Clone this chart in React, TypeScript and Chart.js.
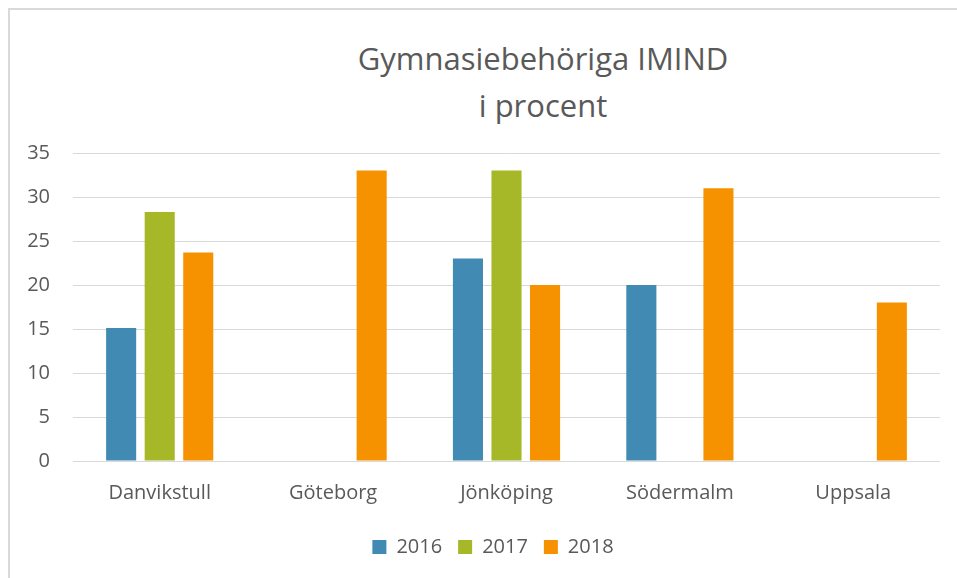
import React, { useEffect, useRef } from "react";
import { Chart, registerables } from "chart.js";

Chart.register(...registerables);

const categories = ["Danvikstull", "Göteborg", "Jönköping", "Södermalm", "Uppsala"];
const seriesNames = ["2016", "2017", "2018"];
const values2016 = [15.1, null, 23, 20, null];
const values2017 = [28.3, null, 33, null, null];
const values2018 = [23.7, 33, 20, 31, 18];
const seriesColors = ["#418AB3", "#A6B727", "#F69200"];
const titleLines = ["Gymnasiebehöriga IMIND", "i procent"];
const yMin = 0;
const yMax = 35;
const yStep = 5;

const FONT = "'Open Sans', 'Noto Sans', sans-serif";
const TEXT = "#595959";

const legendShift = {
  id: "legendShift",
  afterLayout(chart: any) {
    const l = chart.legend;
    if (l) {
      l.left += 13;
      l.right += 13;
    }
  },
};

export default function App() {
  const ref = useRef<HTMLCanvasElement | null>(null);

  useEffect(() => {
    if (!ref.current) return;
    const allValues = [values2016, values2017, values2018];
    const chart = new Chart(ref.current, {
      type: "bar",
      data: {
        labels: categories,
        datasets: seriesNames.map((name, i) => ({
          label: name,
          data: allValues[i],
          backgroundColor: seriesColors[i],
          borderWidth: 0,
          categoryPercentage: 0.667,
          barPercentage: 0.78,
        })),
      },
      options: {
        responsive: false,
        animation: false,
        layout: { padding: { left: 10, right: 17, top: 143, bottom: 11 } },
        plugins: {
          title: { display: false },
          tooltip: { enabled: false },
          legend: {
            position: "bottom",
            labels: {
              boxWidth: 14,
              boxHeight: 14,
              padding: 16,
              color: TEXT,
              font: { family: FONT, size: 20 },
            },
          },
        },
        scales: {
          x: {
            grid: { display: false, drawTicks: false },
            border: { display: false },
            ticks: {
              color: TEXT,
              font: { family: FONT, size: 20 },
              padding: 20,
              maxRotation: 0,
            },
            afterFit: (axis: any) => {
              axis.height -= 4;
            },
          },
          y: {
            min: yMin,
            max: yMax,
            grid: { color: "#D9D9D9", lineWidth: 1, drawTicks: false },
            border: { display: false },
            ticks: {
              stepSize: yStep,
              color: TEXT,
              font: { family: FONT, size: 20 },
              padding: 23,
            },
            afterFit: (axis: any) => {
              axis.width = 53;
            },
          },
        },
      },
      plugins: [legendShift],
    });
    return () => chart.destroy();
  }, []);

  return (
    <div style={{ position: "absolute", left: 0, top: 0, width: 957, height: 578, background: "#fff", overflow: "hidden" }}>
      <div
        style={{
          position: "absolute",
          left: 8,
          top: 8,
          width: 949,
          height: 570,
          borderLeft: "2px solid #D9D9D9",
          borderTop: "2px solid #D9D9D9",
          boxSizing: "border-box",
        }}
      />
      <div
        style={{
          position: "absolute",
          left: 243,
          top: 35,
          width: 600,
          textAlign: "center",
          fontFamily: FONT,
          fontSize: 31,
          lineHeight: "47px",
          color: TEXT,
        }}
      >
        {titleLines.map((l) => (
          <div key={l}>{l}</div>
        ))}
      </div>
      <canvas
        ref={ref}
        width={947}
        height={568}
        style={{ position: "absolute", left: 10, top: 10, width: 947, height: 568 }}
      />
    </div>
  );
}
